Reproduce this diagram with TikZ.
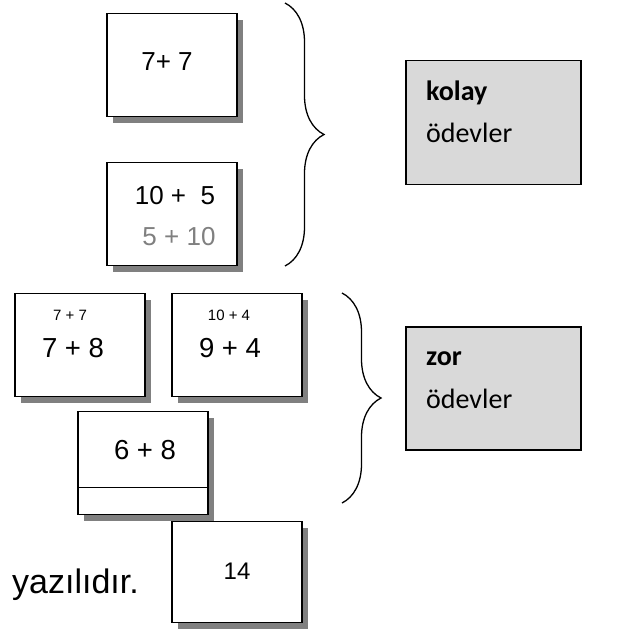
\documentclass[tikz,border=0pt]{standalone}
\usepackage{fontspec}
\setmainfont{Liberation Sans}
\newfontfamily\cardfont{Liberation Sans}
\newfontfamily\notefont{Carlito}
\usetikzlibrary{positioning}
\usetikzlibrary{shadows}
\usetikzlibrary{decorations.pathreplacing}
\definecolor{boxgray}{RGB}{217,217,217}
\definecolor{shadowgray}{RGB}{128,128,128}
\definecolor{faded}{RGB}{128,128,128}

\begin{document}
\begin{tikzpicture}[x=1pt, y=-1pt,
			card/.style={rectangle, draw, line width=1.5pt, fill=white, minimum width=130pt, minimum height=103pt, inner sep=0pt,
				drop shadow={shadow xshift=6pt, shadow yshift=-6pt, fill=shadowgray, opacity=1}},
			note/.style={rectangle, draw, line width=1.5pt, fill=boxgray, minimum width=175pt, minimum height=124pt},
			big/.style={font=\cardfont\fontsize{26}{30}\selectfont, inner sep=0pt},
			bigger/.style={font=\cardfont\fontsize{27.5}{32}\selectfont, inner sep=0pt},
			small/.style={font=\cardfont\fontsize{15}{18}\selectfont, inner sep=0pt},
			word/.style={font=\notefont\fontsize{28}{32}\selectfont, inner sep=0pt, anchor=base west},
			curly/.style={decorate, decoration={brace, amplitude=39pt}, line width=1.3pt}
		]
			\useasboundingbox (0,0) rectangle (634,632);

			% Easy cards
			\node[card] (sevenseven) at (172,65) {};
			\node[big] (tsevenseven) at (167,62) {7+ 7};
			\node[card] (tenfive) at (172,214) {};
			\node[big] (ttenfive) at (175,196) {10 +\ \ 5};
			\node[big, text=faded] (tfiveten) at (179,237) {5 + 10};

			% Hard cards
			\node[card] (seveneight) at (80,345) {};
			\node[small] (hseveneight) at (70,315) {7 + 7};
			\node[bigger] (tseveneight) at (73,348) {7 + 8};
			\node[card] (ninefour) at (237,345) {};
			\node[small] (hninefour) at (229,315) {10 + 4};
			\node[bigger] (tninefour) at (230,348) {9 + 4};
			\node[card] (sixeight) at (143,463) {};
			\node[bigger] (tsixeight) at (145,450) {6 + 8};
			\draw[line width=1.5pt] ([yshift=28pt]sixeight.south west) -- ([yshift=28pt]sixeight.south east);
			\node[card, minimum height=101pt] (fourteen) at (237,572) {};
			\node[big, font=\cardfont\fontsize{24}{28}\selectfont] (tfourteen) at (237,571) {14};
			\node[font=\fontsize{34}{40}\selectfont, inner sep=0pt, anchor=base west] (written) at (12,593) {yazılıdır.};

			% Braces
			\coordinate (easytop) at (285,3);
			\coordinate (easybot) at (285,266);
			\coordinate (hardtop) at (342,293);
			\coordinate (hardbot) at (342,503);
			\draw[curly] (easytop) -- (easybot);
			\draw[curly] (hardtop) -- (hardbot);

			% Grey boxes
			\node[note] (easy) at (493.5,122.5) {};
			\node[word] (easyhead) at (426,100) {\textbf{kolay}};
			\node[word] (easytext) at (426,142) {ödevler};
			\node[note, minimum height=123pt] (hard) at (493.5,388.5) {};
			\node[word] (hardhead) at (426,365) {\textbf{zor}};
			\node[word] (hardtext) at (426,408) {ödevler};
		\end{tikzpicture}
\end{document}
